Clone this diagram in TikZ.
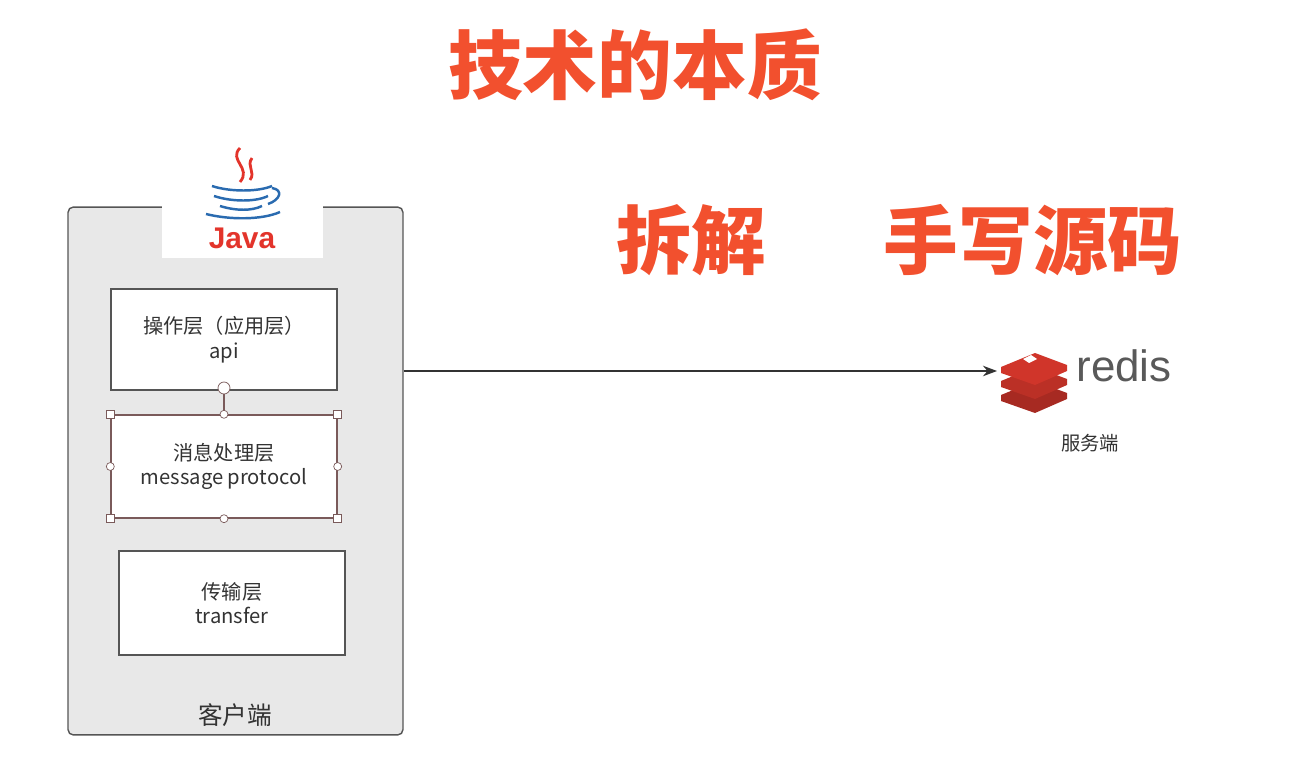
\documentclass[tikz,border=0pt]{standalone}
\usepackage{fontspec}
\setmainfont{Liberation Sans}
\newfontfamily\cjk{Noto Sans CJK SC}
\usetikzlibrary{arrows.meta,positioning,calc}
\definecolor{titlered}{HTML}{F2502E}
\definecolor{panelgray}{HTML}{E8E8E8}
\definecolor{edgegray}{HTML}{555555}
\definecolor{selbrown}{HTML}{7A5A5A}
\definecolor{javablue}{HTML}{2A6BB0}
\definecolor{javared}{HTML}{E3342B}
\definecolor{redisred}{HTML}{D0352A}
\tikzset{
  title/.style={font=\cjk\bfseries\fontsize{42.5}{46}\selectfont, text=titlered},
  layer/.style={draw=edgegray, thick, fill=white, minimum width=4.52cm, align=center,
                font=\cjk\fontsize{11.5}{14}\selectfont, text=black!80},
  handle/.style={draw=selbrown, fill=white, minimum size=0.16cm, inner sep=0pt},
}
\begin{document}
\begin{tikzpicture}[x=0.02cm, y=-0.02cm]
    \useasboundingbox (0,0) rectangle (1302,780);
    % 标题
    \node[title] (t1) at (635,65) {技术的本质};
    \node[title, font=\cjk\bfseries\fontsize{42.5}{46}\selectfont] (t2) at (691,240) {拆解};
    \node[title, font=\cjk\bfseries\fontsize{42.5}{46}\selectfont] (t3) at (1033,240) {手写源码};
    % 客户端
    \node[draw=edgegray, thick, fill=panelgray, rounded corners=3pt,
          minimum width=6.7cm, minimum height=10.56cm] (client) at (235.5,471) {};
    \node[fill=white, minimum width=3.22cm, minimum height=1.16cm] (patch) at (242.5,229) {};
    \node[font=\cjk\fontsize{14}{16}\selectfont, text=black!80] (clabel) at (235,715) {客户端};
    % Java 标志
    \draw[javared, line width=1.6pt] (240,148) .. controls (228,160) and (252,168) .. (240,182)
        (252,158) .. controls (246,166) and (256,172) .. (250,180);
    \draw[javablue, line width=1.4pt] (212,186) .. controls (230,192) and (258,192) .. (272,186)
        (214,196) .. controls (232,202) and (256,202) .. (268,196)
        (220,206) .. controls (236,211) and (252,211) .. (262,206)
        (272,188) .. controls (284,190) and (280,200) .. (268,204)
        (206,214) .. controls (230,220) and (262,220) .. (280,212);
    \node[text=javared, font=\bfseries\fontsize{17}{18}\selectfont] (java) at (242,238) {Java};
    % 三层
    \node[layer, minimum height=2.02cm] (api) at (224,339.5) {操作层（应用层）\\api};
    \node[layer, draw=selbrown, minimum height=2.06cm] (proto) at (224,466.5) {消息处理层\\message protocol};
    \node[layer, minimum height=2.08cm] (trans) at (232,603) {传输层\\transfer};
    % 选中手柄
    \node[handle, circle, minimum size=0.24cm] (knob) at (224,388) {};
    \draw[selbrown, thick] (knob) -- (proto.north);
    \foreach \a in {north west, north east, south west, south east}
        \node[handle] at (proto.\a) {};
    \foreach \a in {north, south, east, west}
        \node[handle, circle] at (proto.\a) {};
    % 服务端
    \coordinate (rlogo) at (1035,371);
    \foreach \dy/\c in {18/redisred!80!black, 4/redisred!90!black, -10/redisred} {
        \fill[\c] ($(rlogo)+(-34,\dy+6)$) -- ($(rlogo)+(0,\dy-8)$) -- ($(rlogo)+(32,\dy+4)$)
            -- ($(rlogo)+(32,\dy+10)$) -- ($(rlogo)+(0,\dy+24)$) -- ($(rlogo)+(-34,\dy+12)$) -- cycle;
    }
    \fill[white] ($(rlogo)+(-12,-12)$) -- ($(rlogo)+(-4,-16)$) -- ($(rlogo)+(2,-12)$) -- ($(rlogo)+(-6,-8)$) -- cycle;
    \node[text=black!65, font=\fontsize{25}{26}\selectfont] (redis) at (1124,366) {redis};
    \node[font=\cjk\fontsize{11}{13}\selectfont, text=black!80] (server) at (1090,443) {服务端};
    % 连线
    \draw[-{Stealth[length=8pt]}, thick, black!80] (client.east |- rlogo) -- ($(rlogo)+(-38,0)$);
\end{tikzpicture}
\end{document}
